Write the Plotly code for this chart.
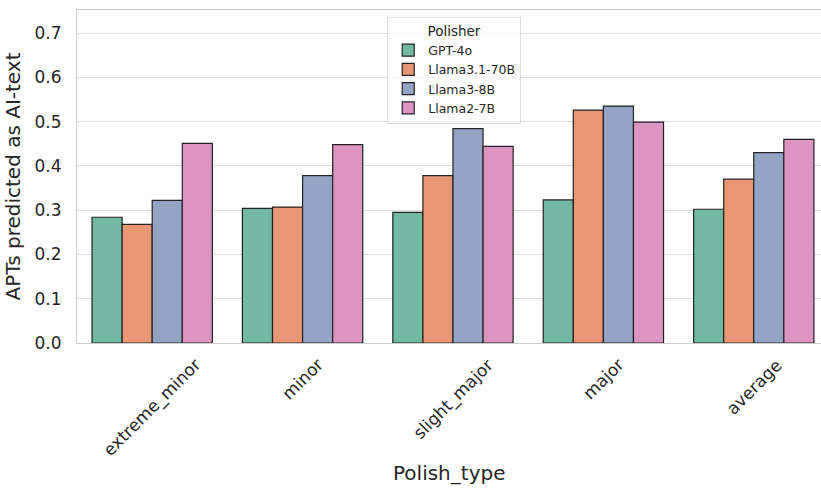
import plotly.graph_objects as go

categories = ["extreme_minor", "minor", "slight_major", "major", "average"]
series_names = ["GPT-4o", "Llama3.1-70B", "Llama3-8B", "Llama2-7B"]
gpt4o = [0.284, 0.304, 0.295, 0.323, 0.302]
llama31_70b = [0.268, 0.307, 0.378, 0.526, 0.370]
llama3_8b = [0.322, 0.378, 0.484, 0.535, 0.430]
llama2_7b = [0.451, 0.448, 0.444, 0.499, 0.460]
y_ticks = [0.0, 0.1, 0.2, 0.3, 0.4, 0.5, 0.6, 0.7]

colors = ["#73b8a2", "#e89674", "#95a4c4", "#db95c0"]
values = [gpt4o, llama31_70b, llama3_8b, llama2_7b]
text_color = "#262626"

fig = go.Figure()
for name, vals, c in zip(series_names, values, colors):
    fig.add_trace(go.Bar(
        x=categories, y=vals, name=name,
        marker=dict(color=c, line=dict(color="#222222", width=1.2)),
    ))

# rotated category labels centred under each group (matplotlib style)
for cat in categories:
    fig.add_annotation(
        x=cat, xref="x", y=0, yref="paper", yshift=-9,
        text=cat, textangle=-45, showarrow=False,
        xanchor="center", yanchor="top",
        font=dict(size=17, color=text_color),
    )
fig.add_annotation(
    x=0.5, xref="paper", y=0, yref="paper", yshift=-130,
    text="Polish_type", showarrow=False, xanchor="center", yanchor="middle",
    font=dict(size=20, color=text_color),
)

font_family = "DejaVu Sans"
fig.update_layout(
    width=821, height=493,
    margin=dict(l=77, r=0, t=10, b=150),
    barmode="group", bargap=0.2, bargroupgap=0,
    plot_bgcolor="white", paper_bgcolor="white",
    font=dict(family=font_family, color=text_color),
    legend=dict(
        title=dict(text="Polisher", side="top center", font=dict(size=13.5, color=text_color)),
        font=dict(size=12.5, color=text_color),
        x=0.507, xanchor="center", y=0.979, yanchor="top",
        bordercolor="#dddddd", borderwidth=1, bgcolor="rgba(255,255,255,0.8)",
        tracegroupgap=0,
    ),
    xaxis=dict(
        showticklabels=False, automargin=False,
        showline=True, linecolor="#cccccc", linewidth=1, mirror=True,
        showgrid=False, ticks="", range=[-0.5, 4.447],
    ),
    yaxis=dict(
        title=dict(text="APTs predicted as AI-text", font=dict(size=20), standoff=8),
        tickvals=y_ticks, ticktext=[f"{v:.1f}" for v in y_ticks],
        tickfont=dict(size=17), range=[0, 0.752], automargin=False,
        ticklabelstandoff=11,
        showline=True, linecolor="#cccccc", linewidth=1, mirror=False,
        showgrid=True, gridcolor="#dddddd", gridwidth=1, zeroline=False, ticks="",
    ),
)
fig.write_html(
    "out.html",
    config={"displayModeBar": False},
    post_script="document.body.style.margin='0';document.body.style.overflow='hidden';",
)
